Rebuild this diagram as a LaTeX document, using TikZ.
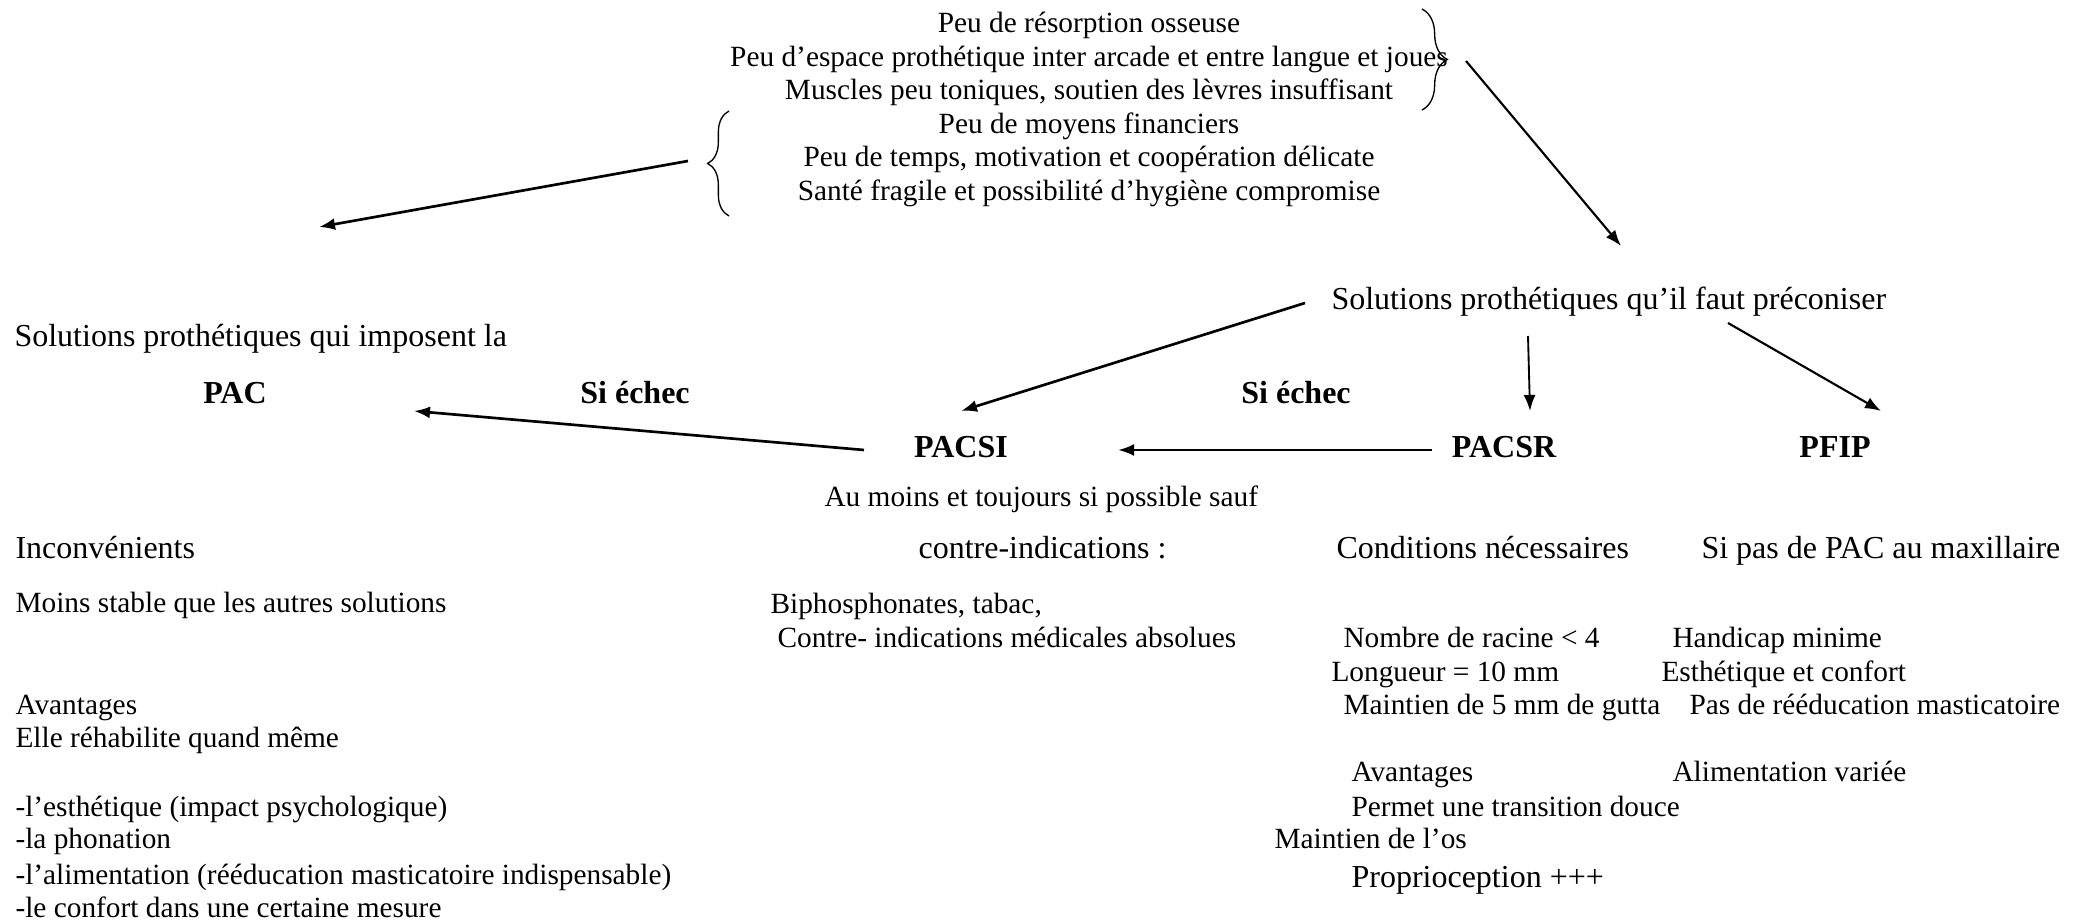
\documentclass[tikz,border=0pt]{standalone}
\usepackage{fontspec}
\setmainfont{Liberation Serif}
\usetikzlibrary{arrows.meta}
\usetikzlibrary{decorations.pathreplacing}
\tikzset{
	txt/.style={inner sep=0pt, anchor=base west, font=\fontsize{11}{13}\selectfont},
	ctxt/.style={inner sep=0pt, anchor=base, font=\fontsize{11}{13}\selectfont},
	ltxt/.style={inner sep=0pt, anchor=base west, font=\fontsize{12}{14}\selectfont},
	btxt/.style={inner sep=0pt, anchor=base, font=\fontsize{12}{14}\selectfont\bfseries},
	arr/.style={->, line width=0.8pt},
	brc/.style={decorate, decoration={brace, amplitude=#1, aspect=0.5}, line width=0.5pt},
}

\begin{document}
\begin{tikzpicture}[x=0.375pt, y=-0.375pt, >={Latex[length=6pt,width=4.5pt]}]
			\useasboundingbox (0,0) rectangle (2087,921);

			% Write the two groups of patient features at the top
			\node[ctxt] (res) at (1089,33) {Peu de résorption osseuse};
			\node[ctxt] (esp) at (1089,67) {Peu d’espace prothétique inter arcade et entre langue et joues};
			\node[ctxt] (mus) at (1089,100) {Muscles peu toniques, soutien des lèvres insuffisant};
			\node[ctxt] (fin) at (1089,134) {Peu de moyens financiers};
			\node[ctxt] (tps) at (1089,167) {Peu de temps, motivation et coopération délicate};
			\node[ctxt] (san) at (1089,201) {Santé fragile et possibilité d’hygiène compromise};

			% Draw the braces round them
			\draw[brc=9.5pt] (1422,9) -- (1422,110) coordinate[midway] (brR);
			\draw[brc=8pt] (729,216) -- (729,111) coordinate[midway] (brL);

			% The two families of solutions
			\node[ltxt] (preco) at (1331,310) {Solutions prothétiques qu’il faut préconiser};
			\node[ltxt] (impose) at (14,347) {Solutions prothétiques qui imposent la};
			\node[btxt] (pac) at (235,404) {PAC};
			\node[btxt] (echecL) at (635,404) {Si échec};
			\node[btxt] (echecR) at (1296,404) {Si échec};
			\node[btxt] (pacsi) at (961,458) {PACSI};
			\node[btxt] (pacsr) at (1504,458) {PACSR};
			\node[btxt] (pfip) at (1835,458) {PFIP};

			% Ends of the arrows
			\coordinate (brRout) at (1466,61);
			\coordinate (precoIn) at (1621,246);
			\coordinate (brLout) at (688,161);
			\coordinate (imposeIn) at (319,227);
			\coordinate (precoL) at (1305,303);
			\coordinate (precoM) at (1528,336);
			\coordinate (precoR) at (1728,323);
			\coordinate (pacsiIn) at (961,411);
			\coordinate (pacsrIn) at (1530,411);
			\coordinate (pfipIn) at (1881,411);
			\coordinate (pacsrOut) at (1432,450);
			\coordinate (pacsiR) at (1118,450);
			\coordinate (pacsiL) at (864,450);
			\coordinate (pacIn) at (414,411);

			% Draw the arrows
			\draw[arr] (brRout) -- (precoIn);
			\draw[arr, line width=1pt] (brLout) -- (imposeIn);
			\draw[arr, line width=1pt] (precoL) -- (pacsiIn);
			\draw[arr, line width=0.7pt] (precoM) -- (pacsrIn);
			\draw[arr] (precoR) -- (pfipIn);
			\draw[arr, line width=1pt] (pacsrOut) -- (pacsiR);
			\draw[arr, line width=1pt] (pacsiL) -- (pacIn);

			% Details under PAC
			\node[ltxt] (inc) at (15,559) {Inconvénients};
			\node[txt] (moins) at (15,613) {Moins stable que les autres solutions};
			\node[txt] (avL) at (15,715) {Avantages};
			\node[txt] (rehab) at (15,748) {Elle réhabilite quand même};
			\node[txt] (esth) at (15,817) {-l’esthétique (impact psychologique)};
			\node[txt] (phon) at (15,849) {-la phonation};
			\node[txt] (alim) at (15,885) {-l’alimentation (rééducation masticatoire indispensable)};
			\node[txt] (conf) at (15,918) {-le confort dans une certaine mesure};

			% Details under PACSI
			\node[txt] (aumoins) at (824,507) {Au moins et toujours si possible sauf};
			\node[ltxt] (ci) at (918,559) {contre-indications :};
			\node[txt] (bipho) at (770,614) {Biphosphonates, tabac,};
			\node[txt] (cimed) at (777,648) {Contre- indications médicales absolues};

			% Details under PACSR
			\node[ltxt] (cond) at (1336,559) {Conditions nécessaires};
			\node[txt] (rac) at (1343,648) {Nombre de racine < 4};
			\node[txt] (long) at (1331,682) {Longueur = 10 mm};
			\node[txt] (gut) at (1343,715) {Maintien de 5 mm de gutta};
			\node[txt] (avR) at (1351,782) {Avantages};
			\node[txt] (trans) at (1351,817) {Permet une transition douce};
			\node[txt] (os) at (1274,849) {Maintien de l’os};
			\node[ltxt] (prop) at (1351,887) {Proprioception +++};

			% Details under PFIP
			\node[ltxt] (maxi) at (1701,559) {Si pas de PAC au maxillaire};
			\node[txt] (hand) at (1672,648) {Handicap minime};
			\node[txt] (estc) at (1661,682) {Esthétique et confort};
			\node[txt] (reed) at (1689,715) {Pas de rééducation masticatoire};
			\node[txt] (var) at (1672,782) {Alimentation variée};
		\end{tikzpicture}
\end{document}
